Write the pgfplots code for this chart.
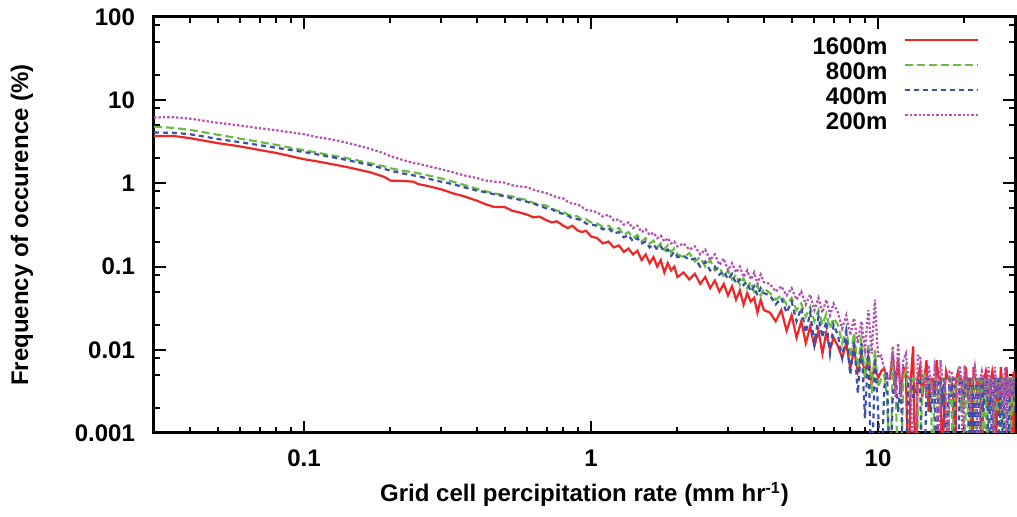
\documentclass[border=0pt]{standalone}
\usepackage{fontspec}
\setmainfont{Liberation Sans}
\usepackage{pgfplots}
\usepackage{pgfplotstable}
\pgfplotsset{compat=1.18}

\definecolor{c1600}{RGB}{238,38,38}
\definecolor{c800}{RGB}{108,188,68}
\definecolor{c400}{RGB}{58,80,170}
\definecolor{c200}{RGB}{180,82,180}

% x = rate (mm/hr), r = 1600m, g = 800m, b = 400m, m = 200m (frequency in %)
\pgfplotstableread{
x r g b m
0.03 3.70 4.80 4.10 6.20
0.035 3.72 4.65 4.05 6.25
0.04 3.50 4.40 3.90 6.00
0.045 3.25 4.10 3.65 5.65
0.05 3.05 3.85 3.42 5.35
0.06 2.78 3.45 3.12 4.95
0.07 2.52 3.15 2.88 4.60
0.08 2.32 2.90 2.68 4.35
0.09 2.12 2.68 2.52 4.10
0.1 1.95 2.50 2.38 3.90
0.11 1.85 2.36 2.25 3.62
0.12 1.75 2.22 2.12 3.45
0.13 1.66 2.12 2.02 3.28
0.14 1.58 2.02 1.92 3.10
0.15 1.50 1.92 1.82 2.92
0.17 1.36 1.75 1.66 2.60
0.19 1.20 1.60 1.50 2.30
0.2 1.08 1.52 1.42 2.12
0.22 1.07 1.42 1.32 1.92
0.24 1.05 1.36 1.25 1.76
0.25 0.98 1.32 1.22 1.72
0.27 0.93 1.25 1.14 1.62
0.3 0.85 1.15 1.05 1.48
0.33 0.76 1.05 0.98 1.36
0.36 0.70 0.96 0.90 1.25
0.4 0.62 0.86 0.82 1.16
0.43 0.56 0.80 0.78 1.08
0.46 0.52 0.76 0.74 1.05
0.5 0.52 0.72 0.70 1.02
0.53 0.47 0.70 0.66 0.95
0.56 0.45 0.66 0.64 0.92
0.6 0.42 0.63 0.60 0.90
0.63 0.39 0.58 0.57 0.84
0.66 0.40 0.56 0.54 0.80
0.7 0.36 0.54 0.50 0.76
0.73 0.34 0.50 0.49 0.72
0.76 0.35 0.47 0.45 0.68
0.8 0.31 0.46 0.43 0.66
0.83 0.29 0.42 0.41 0.60
0.86 0.31 0.41 0.38 0.57
0.9 0.27 0.40 0.37 0.56
0.93 0.26 0.36 0.36 0.52
0.96 0.27 0.37 0.33 0.48
1.0 0.23 0.34 0.32 0.47
1.05 0.22 0.33 0.31 0.45
1.1 0.19 0.30 0.28 0.40
1.15 0.20 0.31 0.29 0.42
1.2 0.17 0.27 0.25 0.36
1.25 0.18 0.29 0.26 0.37
1.3 0.15 0.24 0.225 0.32
1.35 0.165 0.26 0.24 0.34
1.4 0.14 0.22 0.20 0.29
1.45 0.155 0.24 0.22 0.31
1.5 0.12 0.20 0.19 0.26
1.55 0.14 0.22 0.20 0.28
1.6 0.11 0.19 0.17 0.24
1.65 0.13 0.205 0.185 0.255
1.7 0.10 0.17 0.16 0.22
1.75 0.12 0.19 0.175 0.235
1.8 0.085 0.16 0.15 0.20
1.85 0.11 0.18 0.16 0.22
1.9 0.09 0.15 0.135 0.19
1.95 0.10 0.165 0.15 0.20
2.0 0.075 0.14 0.13 0.175
2.1 0.085 0.13 0.135 0.19
2.2 0.07 0.145 0.12 0.16
2.3 0.082 0.115 0.125 0.175
2.4 0.062 0.13 0.10 0.14
2.5 0.075 0.10 0.115 0.16
2.6 0.055 0.12 0.09 0.12
2.7 0.068 0.09 0.10 0.14
2.8 0.05 0.10 0.08 0.105
2.9 0.062 0.075 0.088 0.125
3.0 0.045 0.09 0.07 0.09
3.1 0.058 0.07 0.082 0.11
3.2 0.04 0.08 0.062 0.085
3.3 0.052 0.06 0.07 0.10
3.4 0.035 0.072 0.06 0.075
3.5 0.048 0.055 0.065 0.09
3.6 0.038 0.066 0.05 0.07
3.7 0.042 0.05 0.058 0.085
3.8 0.028 0.06 0.045 0.062
3.9 0.04 0.045 0.055 0.08
4.0 0.03 0.055 0.048 0.065
4.2 0.028 0.048 0.045 0.062
4.4 0.022 0.04 0.035 0.05
4.6 0.03 0.045 0.042 0.058
4.8 0.017 0.035 0.028 0.045
5.0 0.026 0.042 0.038 0.055
5.2 0.014 0.03 0.022 0.04
5.4 0.022 0.036 0.032 0.05
5.6 0.012 0.025 0.016 0.035
5.8 0.019 0.033 0.028 0.046
6.0 0.011 0.022 0.012 0.03
6.2 0.017 0.03 0.025 0.042
6.4 0.009 0.02 0.014 0.028
6.6 0.016 0.027 0.022 0.04
6.8 0.01 0.018 0.009 0.026
7.0 0.014 0.024 0.02 0.036
7.25 0.011 0.02 0.015 0.028
7.5 0.008 0.012 0.008 0.018
7.75 0.012 0.018 0.016 0.026
8.0 0.006 0.008 0.005 0.015
8.25 0.01 0.016 0.013 0.024
8.5 0.0055 0.006 0.003 0.012
8.75 0.009 0.014 0.012 0.022
9.0 0.005 0.0045 0.0015 0.01
9.25 0.0085 0.012 0.01 0.03
9.5 0.004 0.003 0.0002 0.009
9.75 0.007 0.01 0.008 0.04
10.0 0.0045 0.0035 0.002 0.008
10.25 0.0055 0.0045 0.0002 0.0085
10.5 0.006 0.005 0.0035 0.006
10.75 0.0045 0.0027 0.0055 0.0045
11 0.0045 0.0002 0.0002 0.0045
11.25 0.009 0.0062 0.0027 0.011
11.5 0.0035 0.0045 0.0055 0.0027
11.75 0.008 0.0002 0.0018 0.012
12 0.0027 0.0002 0.0045 0.0027
12.25 0.0062 0.0045 0.0002 0.0075
12.5 0.0055 0.0062 0.0002 0.009
12.75 0.0002 0.0027 0.0045 0.0045
13 0.0045 0.0027 0.0045 0.0045
13.25 0.011 0.0045 0.0027 0.0002
13.5 0.0002 0.0045 0.0027 0.0002
13.75 0.0045 0.0018 0.0045 0.0085
14 0.0062 0.0002 0.0045 0.0085
14.25 0.0027 0.0045 0.0002 0.0045
14.5 0.0045 0.0055 0.0002 0.0045
14.75 0.0075 0.0027 0.0045 0.0027
15 0.0018 0.0045 0.0045 0.0065
15.25 0.0045 0.0045 0.0018 0.0045
15.5 0.0045 0.0002 0.0027 0.0027
15.75 0.0027 0.0045 0.0045 0.0062
16 0.0075 0.0045 0.0002 0.0045
16.25 0.0045 0.0018 0.0045 0.0002
16.5 0.0045 0.0027 0.0045 0.0075
16.75 0.0002 0.0045 0.0027 0.0045
17 0.0027 0.0045 0.0045 0.0045
17.25 0.0055 0.0027 0.0002 0.0027
17.5 0.0045 0.0002 0.0018 0.0002
17.75 0.0045 0.0045 0.0045 0.0055
18 0.0045 0.0045 0.0027 0.0055
18.25 0.0027 0.0002 0.0045 0.0045
18.5 0.0002 0.0027 0.0045 0.0045
18.75 0.0045 0.0045 0.0002 0.0027
19 0.0055 0.0045 0.0002 0.0027
19.25 0.0045 0.0027 0.0045 0.0065
19.5 0.0045 0.0018 0.0045 0.0045
19.75 0.0018 0.0045 0.0027 0.0002
20 0.0045 0.0002 0.0027 0.0065
20.25 0.0062 0.0045 0.0045 0.0045
20.5 0.0027 0.0045 0.0045 0.0045
20.75 0.0045 0.0002 0.0018 0.0027
21 0.0045 0.0027 0.0002 0.0018
21.25 0.0002 0.0045 0.0045 0.0045
21.5 0.0062 0.0045 0.0027 0.0045
21.75 0.0045 0.0018 0.0002 0.0062
22 0.0045 0.0002 0.0045 0.0045
22.25 0.0027 0.0045 0.0027 0.0002
22.5 0.0045 0.0045 0.0002 0.0002
22.75 0.0045 0.0027 0.0045 0.0045
23 0.0002 0.0045 0.0045 0.0055
23.25 0.0045 0.0002 0.0018 0.0045
23.5 0.0045 0.0027 0.0027 0.0045
23.75 0.0055 0.0045 0.0045 0.0027
24 0.0045 0.0002 0.0045 0.0045
24.25 0.0018 0.0045 0.0002 0.0062
24.5 0.0027 0.0045 0.0018 0.0027
24.75 0.0045 0.0027 0.0045 0.0045
25 0.0055 0.0027 0.0002 0.0045
25.25 0.0045 0.0002 0.0045 0.0002
25.5 0.0045 0.0045 0.0045 0.0062
25.75 0.0002 0.0045 0.0027 0.0045
26 0.0045 0.0018 0.0027 0.0045
26.25 0.0045 0.0045 0.0045 0.0027
26.5 0.0018 0.0045 0.0002 0.0027
26.75 0.0062 0.0027 0.0045 0.0045
27 0.0045 0.0002 0.0045 0.0045
27.25 0.0045 0.0045 0.0002 0.0018
27.5 0.0045 0.0045 0.0027 0.0045
27.75 0.0027 0.0002 0.0045 0.0062
28 0.0062 0.0027 0.0045 0.0002
28.25 0.0045 0.0045 0.0018 0.0045
28.5 0.0027 0.0045 0.0002 0.0045
28.75 0.0045 0.0027 0.0045 0.0027
29 0.0045 0.0002 0.0045 0.0045
29.25 0.0002 0.0045 0.0027 0.0045
29.5 0.0045 0.0045 0.0027 0.0027
29.75 0.0055 0.0018 0.0045 0.0045
30 0.0002 0.0027 0.0018 0.0045
}\data

\begin{document}
\begin{tikzpicture}
\begin{axis}[
  name=ax,
  scale only axis,
  width=430.5pt, height=208pt,
  xmode=log, ymode=log,
  xmin=0.03, xmax=30, ymin=0.001, ymax=100,
  xtick={0.1,1,10}, xticklabels={0.1,1,10},
  ytick={0.001,0.01,0.1,1,10,100},
  yticklabels={0.001,0.01,0.1,1,10,100},
  minor xtick={0.04,0.05,0.06,0.07,0.08,0.09,0.2,0.3,0.4,0.5,0.6,0.7,0.8,0.9,2,3,4,5,6,7,8,9,20},
  minor ytick={0.002,0.005,0.008,0.02,0.05,0.08,0.2,0.5,0.8,2,5,8,20,50,80},
  tick align=inside,
  major tick length=6pt, minor tick length=3pt,
  every tick/.style={black, line width=1pt},
  axis line style={line width=1.5pt},
  tick label style={font=\fontsize{12}{14}\selectfont\bfseries},
  yticklabel style={xshift=-6pt},
  xticklabel style={yshift=-5pt},
  label style={font=\fontsize{12}{14}\selectfont\bfseries},
  xlabel={Grid cell percipitation rate (mm hr\textsuperscript{-1})},
  xlabel style={at={(axis description cs:0.5,0)}, anchor=base, yshift=-34.5pt},
  ylabel={Frequency of occurence (\%)},
  ylabel style={at={(axis description cs:-0.1463,0.5)}, anchor=base},
  legend plot pos=right,
  legend cell align=right,
  legend style={draw=none, fill=none, at={(0.9593,0.955)}, anchor=north east,
    inner sep=0pt, column sep=8.5pt, row sep=0pt,
    font=\fontsize{12}{14}\selectfont\bfseries,
    nodes={inner sep=0pt, text height=9pt, text depth=3.5pt}},
  legend image code/.code={\draw[#1] (0pt,4.3pt) -- (36.5pt,4.3pt);},
  every axis plot/.append style={line width=1.1pt},
]
\addplot[c1600, solid] table[x=x, y=r] {\data};
\addlegendentry{1600m}
\addplot[c800, dash pattern=on 4pt off 2pt] table[x=x, y=g] {\data};
\addlegendentry{800m}
\addplot[c400, dash pattern=on 2.5pt off 2pt] table[x=x, y=b] {\data};
\addlegendentry{400m}
\addplot[c200, dash pattern=on 1.2pt off 1pt] table[x=x, y=m] {\data};
\addlegendentry{200m}
\end{axis}
\path ([shift={(-77pt,-42pt)}]ax.south west) rectangle ([shift={(1pt,8.5pt)}]ax.north east);
\end{tikzpicture}
\end{document}
